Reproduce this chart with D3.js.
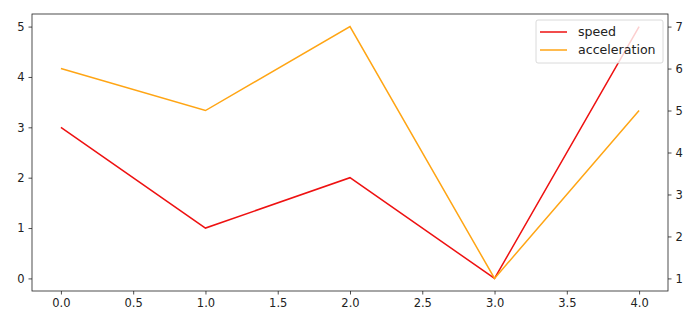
<!DOCTYPE html>
<html>
<head>
<meta charset="utf-8">
<script src="https://cdn.jsdelivr.net/npm/d3@7"></script>
<style>
  body { margin: 0; background: #fff; }
  text { font-family: "DejaVu Sans", sans-serif; }
</style>
</head>
<body>
<script>
// data
var xs = [0, 1, 2, 3, 4];
var speed = [3, 1, 2, 0, 5];
var acceleration = [6, 5, 7, 1, 5];
var xTicks = [0, 0.5, 1, 1.5, 2, 2.5, 3, 3.5, 4];
var leftTicks = [0, 1, 2, 3, 4, 5];
var rightTicks = [1, 2, 3, 4, 5, 6, 7];
var series = [
    {name: "speed", values: speed, color: "#ee1111", axis: "left"},
    {name: "acceleration", values: acceleration, color: "#ffa514", axis: "right"}
];

var width = 700, height = 327;
var box = {left: 32, top: 14, right: 668, bottom: 291};

var svg = d3.select("body").append("svg")
    .attr("width", width)
    .attr("height", height);

var x = d3.scaleLinear().domain([-0.2, 4.2]).range([box.left, box.right]);
var yLeft = d3.scaleLinear().domain([-0.25, 5.25]).range([box.bottom, box.top]);
var yRight = d3.scaleLinear().domain([0.7, 7.3]).range([box.bottom, box.top]);

function fmt1(d) { return d3.format(".1f")(d); }

svg.append("g")
    .attr("transform", "translate(0," + box.bottom + ")")
    .call(d3.axisBottom(x).tickValues(xTicks).tickFormat(fmt1).tickSizeOuter(0).tickSize(3.5).tickPadding(4));

svg.append("g")
    .attr("transform", "translate(" + box.left + ",0)")
    .call(d3.axisLeft(yLeft).tickValues(leftTicks).tickFormat(d3.format("d")).tickSizeOuter(0).tickSize(3.5).tickPadding(4));

svg.append("g")
    .attr("transform", "translate(" + box.right + ",0)")
    .call(d3.axisRight(yRight).tickValues(rightTicks).tickFormat(d3.format("d")).tickSizeOuter(0).tickSize(3.5).tickPadding(4));

svg.selectAll(".domain").remove();
svg.selectAll(".tick text").attr("font-size", 11.5).attr("fill", "#222");
svg.selectAll(".tick line").attr("stroke", "#222").attr("stroke-width", 0.8);

series.forEach(function(s) {
    var yScale = s.axis === "left" ? yLeft : yRight;
    var line = d3.line()
        .x(function(d, i) { return x(xs[i]); })
        .y(function(d) { return yScale(d); });
    svg.append("path")
        .datum(s.values)
        .attr("fill", "none")
        .attr("stroke", s.color)
        .attr("stroke-width", 1.5)
        .attr("d", line);
});

// frame
svg.append("rect")
    .attr("x", box.left)
    .attr("y", box.top)
    .attr("width", box.right - box.left)
    .attr("height", box.bottom - box.top)
    .attr("fill", "none")
    .attr("stroke", "#222")
    .attr("stroke-width", 0.8);

// legend
var legend = svg.append("g").attr("transform", translate(536, 20));
legend.append("rect")
    .attr("width", 127)
    .attr("height", 43)
    .attr("rx", 2)
    .attr("fill", "white")
    .attr("fill-opacity", 0.8)
    .attr("stroke", "#d0d0d0")
    .attr("stroke-width", 0.8);

series.forEach(function(s, i) {
    var yy = 12 + i * 18;
    legend.append("line")
        .attr("x1", 4).attr("x2", 31)
        .attr("y1", yy).attr("y2", yy)
        .attr("stroke", s.color)
        .attr("stroke-width", 1.5);
    legend.append("text")
        .attr("x", 42)
        .attr("y", yy)
        .attr("dy", "0.35em")
        .attr("font-size", 12.6)
        .attr("fill", "#222")
        .text(s.name);
});

function translate(a, b) {
    return "translate(" + a + "," + b + ")";
}
</script>
</body>
</html>
